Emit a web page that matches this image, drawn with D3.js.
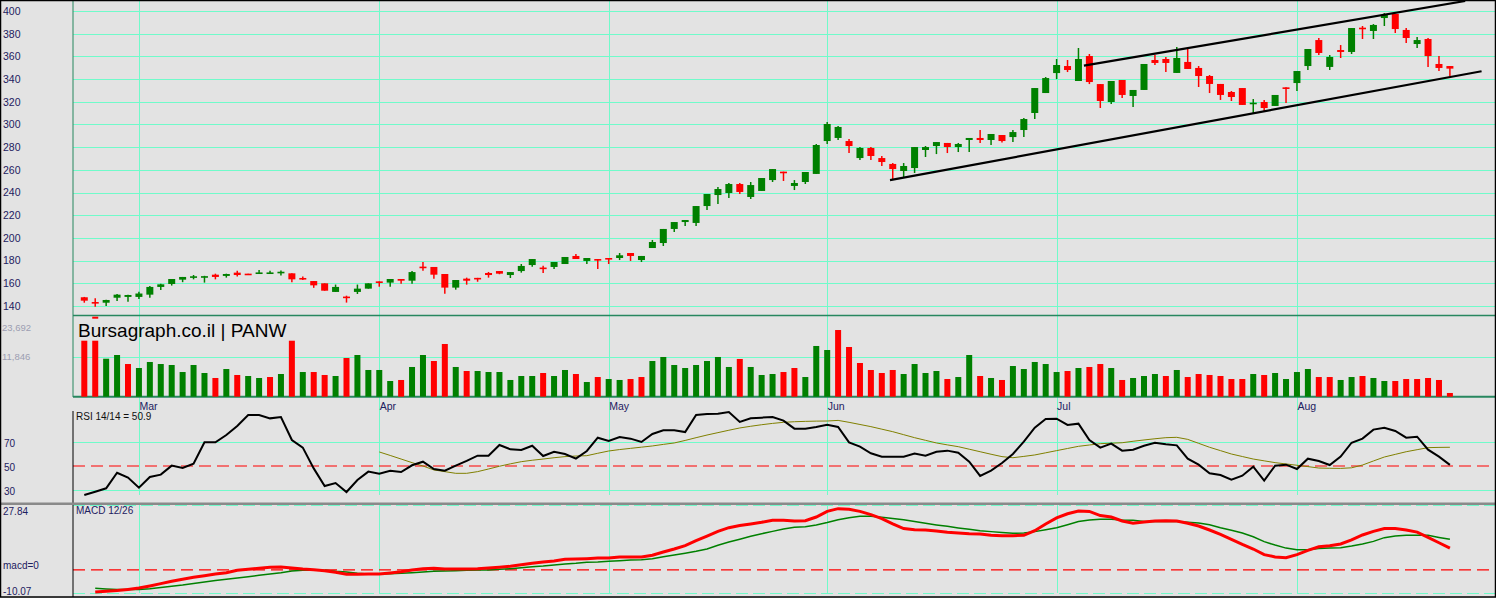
<!DOCTYPE html>
<html>
<head>
<meta charset="utf-8">
<style>
  body{margin:0;background:#e3e3e3;overflow:hidden;}
  svg{display:block;font-family:"Liberation Sans",Arial,sans-serif;}
  .grid line{stroke:#70fbca;stroke-width:1;shape-rendering:crispEdges;}
  .grid path,.lbl path{display:none;}
  .lbl text{fill:#1d2060;}
</style>
<script src="https://cdn.jsdelivr.net/npm/d3@7"></script>
</head>
<body>
<script>
// ---- data, index = trading day 0..125 ----
const months = ["Mar","Apr","May","Jun","Jul","Aug"];
const monthStart = [5, 27, 48, 68, 89, 111];

const opens = [147.7,143.5,142.9,147.3,148.0,148.0,150.0,156.8,159.4,163.2,
  165.6,165.7,167.6,166.5,169.4,168.5,169.0,169.0,169.2,168.8,
  164.7,162.0,160.0,152.4,148.3,152.4,155.3,161.7,160.6,163.8,
  162.3,174.7,174.4,168.2,156.2,164.1,164.8,169.1,170.8,167.3,
  170.8,176.1,173.9,174.4,177.0,184.1,179.7,181.4,182.3,182.3,
  186.7,180.5,191.1,195.5,207.9,214.0,213.2,228.1,237.8,239.6,
  247.5,236.1,241.4,251.0,258.4,245.8,249.3,256.4,285.4,288.1,
  285.4,270.4,279.3,270.4,265.2,259.0,261.6,277.5,281.0,283.7,
  280.1,286.3,288.1,286.3,290.7,288.9,295.1,310.1,327.7,345.3,
  351.5,338.3,360.3,335.6,319.8,339.2,325.1,330.4,356.8,357.7,
  345.4,355.1,349.8,342.7,335.7,328.6,332.1,318.6,319.8,316.3,
  332.7,336.5,351.5,374.4,350.7,365.6,363.9,385.3,382.4,393.8,
  397.4,383.3,370.9,375.3,353.3,351.5];
const highs = [148.0,146.8,145.5,150.6,149.9,152.5,157.6,159.7,163.8,165.6,
  167.3,166.6,168.5,168.5,171.0,168.5,171.7,171.0,171.3,168.8,
  166.0,162.0,160.0,158.9,149.1,158.9,160.0,161.7,163.8,163.8,
  170.8,178.8,174.4,168.2,162.9,165.0,164.8,170.0,170.8,169.9,
  177.0,181.4,175.5,178.8,183.2,185.8,182.3,181.4,182.3,186.7,
  186.7,184.1,198.2,207.9,214.0,215.8,228.1,238.7,244.9,248.4,
  248.4,249.3,252.8,260.7,258.4,251.0,258.1,282.8,302.2,298.6,
  287.2,280.1,280.1,272.2,266.0,266.0,280.1,281.0,284.5,283.7,
  283.7,288.1,295.1,291.6,290.7,295.1,305.7,332.1,341.8,357.7,
  356.8,367.4,362.1,335.6,338.3,339.2,330.4,353.3,361.2,359.5,
  368.3,366.5,351.5,343.6,335.7,329.5,332.1,322.4,321.6,326.0,
  332.7,347.1,366.5,376.2,361.2,370.0,385.0,386.8,388.5,398.2,
  397.4,385.0,377.1,376.2,360.3,351.5];
const lows = [142.9,139.4,140.0,144.4,143.8,146.2,147.3,154.2,158.0,161.0,
  163.5,160.6,163.5,165.0,165.9,168.1,168.4,168.2,166.8,161.0,
  163.0,156.0,153.5,152.4,143.0,150.6,155.3,157.0,157.0,159.7,
  159.7,171.1,164.1,150.9,154.4,158.8,161.4,165.0,168.0,164.7,
  169.4,174.5,169.1,172.6,177.0,181.4,177.0,172.6,177.0,180.5,
  179.7,178.8,191.1,192.9,205.2,210.5,210.5,224.6,229.9,235.2,
  238.7,234.3,241.4,249.3,250.2,242.2,247.5,256.4,282.8,286.3,
  274.8,268.7,268.7,263.4,251.9,253.7,257.2,271.3,273.9,274.8,
  275.7,275.7,283.7,281.9,284.0,284.5,288.9,304.8,327.7,340.0,
  346.2,338.3,335.6,314.5,318.0,323.3,315.4,330.4,352.4,346.2,
  345.4,348.9,333.0,327.7,321.6,320.7,317.2,310.1,311.9,316.3,
  318.9,329.5,348.0,361.2,348.0,358.6,362.1,375.3,375.3,386.8,
  380.6,371.8,367.4,350.7,347.1,342.7];
const closes = [144.7,142.6,145.3,150.0,149.7,151.0,156.8,159.1,163.8,165.6,
  166.2,166.3,165.6,168.2,167.3,168.1,169.6,169.6,170.2,163.5,
  164.2,158.2,153.5,156.8,147.9,155.3,160.0,161.2,163.8,162.3,
  169.9,174.1,167.6,156.2,162.9,162.3,164.3,167.3,168.5,169.9,
  175.3,181.4,173.1,178.8,183.2,181.4,182.3,180.0,181.4,184.7,
  184.1,184.1,196.4,207.9,214.0,215.8,228.1,238.7,243.1,247.5,
  240.5,246.6,252.8,260.7,257.8,248.4,258.1,281.9,300.4,297.8,
  281.0,279.3,272.2,266.9,260.7,263.4,280.1,280.1,284.5,280.1,
  282.8,288.1,286.3,291.6,285.4,293.3,304.8,332.1,340.9,352.4,
  348.0,357.7,337.4,320.7,338.3,326.0,330.4,353.3,354.2,354.2,
  358.6,348.9,342.7,335.7,326.0,324.2,317.2,319.2,314.5,326.0,
  332.1,347.1,366.5,363.0,359.5,363.9,385.0,384.7,387.7,396.5,
  384.1,376.2,374.4,360.3,349.8,349.2];
// a stray off-scale tick drawn under day 1
const strayTicks = [[1, 129.7]];

const volumes = [16580,16580,11250,12350,9680,8500,10280,9680,9390,7310,
  9390,7020,5540,8200,6430,6130,5540,5830,6720,16580,
  7310,7310,6430,6130,11460,12350,7910,7910,4650,4950,
  8800,12350,10570,15610,8800,7610,7610,7310,7310,4950,
  6130,6130,7020,6130,7910,6720,4350,5830,5240,4950,
  5240,5830,10570,11760,9390,8500,9390,10570,11760,8800,
  11170,8800,6430,6720,7310,8500,5830,15020,13830,19750,
  14720,9980,7910,7020,7910,6720,9680,7020,7610,5240,
  5830,12350,6130,5540,4950,9090,8200,10280,9680,7310,
  7610,8500,8800,9680,8500,4950,5540,6130,6720,6130,
  7910,5830,6720,6430,6130,5240,5240,6720,6430,7020,
  5240,7310,8200,5830,5830,4950,5830,6130,5540,4650,
  4650,5240,5240,5540,4950,1100];
const volumeDir = ("rrggrggggg" + "ggrgrggrgr" + "grrgrggggr" + "ggrrgrgggg" +
  "ggrggrgrgg" + "rrgggggggg" + "rgggrrgggr" + "rrrrrggggr" + "ggrgrggggg" +
  "rgrrgrgggr" + "grrrrrrgrg" + "gggrrggrgg" + "rrrrrr").split("");
const volTicks = [23692, 11846];

const rsi = [25.8,28.6,31.4,44.4,40.3,31.9,40.8,42.8,50.3,48.3,
  51.9,69.7,69.7,75.8,83.3,92.5,92.5,89.7,90.8,71.7,
  65.3,48.0,33.3,35.8,28.3,38.3,45.3,43.6,46.1,45.0,
  50.6,53.6,47.5,46.1,50.3,54.2,58.6,58.6,67.5,63.9,
  63.3,66.9,58.3,61.9,60.0,56.1,62.5,73.6,70.8,74.2,
  72.8,70.0,76.7,79.7,79.7,78.3,92.5,93.3,93.6,95.0,
  86.7,89.7,90.3,90.8,87.8,81.1,81.1,82.5,84.4,82.5,
  69.7,66.1,60.6,57.8,57.8,57.8,60.3,58.6,61.9,62.8,
  61.1,53.6,41.7,46.1,52.5,60.0,70.3,81.9,89.2,89.4,
  84.2,85.3,71.7,65.3,68.6,62.8,63.6,66.9,69.4,68.1,
  67.2,56.1,51.1,43.9,42.5,38.6,41.9,49.4,37.8,50.3,
  51.1,47.5,56.1,54.2,50.8,57.8,69.4,72.8,80.3,81.9,
  79.2,73.6,74.4,63.6,57.8,50.9];
// signal line starts at day 27
const rsiSignal = [null,null,null,null,null,null,null,null,null,null,
  null,null,null,null,null,null,null,null,null,null,
  null,null,null,null,null,null,null,61.7,58.8,55.8,
  52.8,50.0,46.7,45.3,43.9,43.9,45.3,47.5,49.8,51.8,
  53.6,54.8,55.8,56.9,57.8,58.3,58.6,60.6,62.5,63.7,
  64.7,65.7,66.7,68.0,69.2,71.3,73.6,75.8,77.8,79.8,
  81.7,83.1,84.4,85.5,86.4,86.9,87.2,87.4,87.5,88.0,
  86.4,84.6,82.8,80.7,78.6,76.1,73.6,71.4,69.2,67.6,
  66.1,64.0,61.9,59.8,57.8,56.9,58.0,59.2,61.0,62.8,
  64.6,66.4,67.5,68.6,69.0,69.4,70.6,71.7,72.7,73.6,
  73.9,72.2,68.9,65.6,62.8,60.0,57.9,55.8,54.3,52.8,
  51.7,50.6,49.5,48.3,48.1,48.0,48.5,50.8,54.2,57.5,
  59.7,61.9,63.6,65.3,65.5,65.6];
const rsiTicks = [70, 50, 30];

const macd = [null,-9.5,-9.2,-8.9,-8.4,-7.8,-6.9,-5.9,-4.9,-4.05,
  -3.2,-2.5,-1.75,-1.18,-0.18,0.25,0.68,1.1,1.26,0.83,
  0.4,0.11,-0.32,-1.04,-1.9,-1.9,-1.76,-1.76,-1.3,-0.75,
  -0.03,0.54,0.68,0.4,0.4,0.4,0.54,0.83,1.2,1.55,
  2.27,2.84,3.4,3.85,4.56,4.7,4.85,5.1,5.1,5.6,
  5.6,5.6,6.3,7.7,9.0,10.45,12.6,14.6,16.6,18.2,
  19.1,19.8,20.5,21.4,21.4,21.1,21.2,22.8,25.24,26.4,
  26.1,25.24,23.8,22.1,19.8,17.8,17.3,17.2,16.8,16.2,
  15.9,15.6,15.5,14.9,14.7,14.76,14.9,16.9,19.8,22.4,
  24.2,25.4,25.2,23.4,22.8,21.1,20.1,20.6,21.1,21.2,
  21.1,20.1,18.9,17.2,15.3,13.2,11.0,9.0,6.6,5.6,
  5.3,6.6,8.4,10.0,10.45,11.2,12.9,15.05,16.6,17.8,
  17.8,17.2,16.3,14.0,11.7,9.4];
const macdSignal = [null,-7.9,-8.2,-8.4,-8.4,-8.4,-8.1,-7.6,-7.07,-6.5,
  -5.8,-5.2,-4.6,-4.05,-3.5,-2.9,-2.3,-1.76,-1.18,-0.46,
  -0.18,-0.03,-0.18,-0.6,-0.9,-1.47,-1.76,-1.76,-1.6,-1.47,
  -1.18,-0.9,-0.6,-0.46,-0.32,-0.18,-0.03,-0.03,0.25,0.54,
  0.97,1.4,1.69,2.1,2.55,2.84,3.27,3.4,3.7,4.0,
  4.3,4.4,4.85,5.7,6.4,7.15,8.0,9.0,10.6,12.0,
  13.2,14.5,15.6,16.6,17.6,18.4,18.6,19.4,20.4,21.65,
  22.5,23.1,23.1,22.7,22.2,21.65,20.9,20.1,19.4,18.8,
  18.1,17.5,16.9,16.5,16.1,15.8,15.9,16.5,17.3,18.2,
  19.5,20.9,21.5,21.8,21.8,21.5,21.4,20.9,20.9,20.9,
  20.9,20.5,20.2,19.5,18.2,17.1,15.9,14.3,12.2,10.7,
  9.4,8.7,8.7,9.2,9.4,9.6,10.3,11.2,12.3,13.9,
  14.6,14.9,14.9,14.9,14.0,13.2];
const macdTicks = [27.84, 0, -10.07];

const priceTicks = [400,380,360,340,320,300,280,260,240,220,200,180,160,140];
// channel lines: [day, price] end points
const trendLines = [
  [[73.75, 251.0], [127.9, 346.9]],
  [[91.5, 351.8], [126.4, 408.8]]
];

// ---- layout ----
const W = 1496, H = 598, L = 73, R = 1495;
const RED = "#ff0000", GREEN = "#008000", EDGE = "#27875f";

const svg = d3.select("body").append("svg").attr("width", W).attr("height", H);

const x = d3.scaleLinear().domain([0, 125]).range([84.3, 1449.9]);
const yP = d3.scaleLinear().domain([140, 400]).range([306, 11]);
const yV = d3.scaleLinear().domain([0, 23692]).range([396.7, 316.7]);
const yR = d3.scaleLinear().domain([30, 70]).range([490, 442]);
const yM = d3.scaleLinear().domain([-10.07, 27.84]).range([593.3, 505.3]);

// horizontal grids
function hgrid(scale, ticks) {
  return svg.append("g").attr("class", "grid").attr("transform", `translate(${L},0)`)
    .call(d3.axisLeft(scale).tickValues(ticks).tickSize(-(R - L)).tickFormat(""));
}
hgrid(yP, priceTicks);
hgrid(yV, [11846]);
hgrid(yR, [70, 30]);
hgrid(yM, [27.84, -10.07]).selectAll("line").attr("stroke-dasharray", "12,5");

// vertical month lines
svg.append("g").attr("class", "grid")
  .call(d3.axisBottom(x).tickValues(monthStart).tickSize(495).tickFormat(""));
svg.append("g").attr("class", "grid").attr("transform", "translate(0,505.3)")
  .call(d3.axisBottom(x).tickValues(monthStart).tickSize(88).tickFormat(""));

// dashed reference lines
[[yR(50)], [yM(0)]].forEach(([yy]) => {
  svg.append("line").attr("x1", L).attr("x2", R).attr("y1", yy).attr("y2", yy)
    .attr("stroke", RED).attr("stroke-width", 1.2).attr("stroke-dasharray", "12,6");
});

// panel borders
svg.append("line").attr("x1", L).attr("x2", L).attr("y1", 0).attr("y2", 397).attr("stroke", EDGE);
svg.append("line").attr("x1", L).attr("x2", R).attr("y1", 315.5).attr("y2", 315.5).attr("stroke", EDGE).attr("stroke-width", 1.5);
svg.append("line").attr("x1", L).attr("x2", R).attr("y1", 396.7).attr("y2", 396.7).attr("stroke", EDGE).attr("stroke-width", 2);
svg.append("line").attr("x1", L).attr("x2", L).attr("y1", 411).attr("y2", 503).attr("stroke", "#000");
svg.append("line").attr("x1", 0).attr("x2", W).attr("y1", 503.8).attr("y2", 503.8).attr("stroke", "#8a8a8a").attr("stroke-width", 2.5);
svg.append("line").attr("x1", L).attr("x2", L).attr("y1", 505).attr("y2", 597).attr("stroke", "#000");

// candles
const days = d3.range(opens.length);
const candle = svg.append("g").selectAll("g").data(days).join("g")
  .attr("fill", i => closes[i] < opens[i] ? RED : GREEN)
  .attr("stroke", i => closes[i] < opens[i] ? RED : GREEN);
candle.append("line")
  .attr("x1", i => x(i)).attr("x2", i => x(i))
  .attr("y1", i => yP(highs[i])).attr("y2", i => yP(lows[i]))
  .attr("stroke-width", 1.5);
candle.append("rect")
  .attr("stroke", "none")
  .attr("x", i => x(i) - 3.5).attr("width", 7)
  .attr("y", i => yP(Math.max(opens[i], closes[i])))
  .attr("height", i => Math.max(1.6, Math.abs(yP(opens[i]) - yP(closes[i]))));
svg.append("g").selectAll("rect").data(strayTicks).join("rect")
  .attr("x", d => x(d[0]) - 3).attr("width", 6)
  .attr("y", d => yP(d[1]) - 1).attr("height", 2).attr("fill", RED);

// channel
svg.append("g").selectAll("line").data(trendLines).join("line")
  .attr("x1", d => x(d[0][0])).attr("y1", d => yP(d[0][1]))
  .attr("x2", d => x(d[1][0])).attr("y2", d => yP(d[1][1]))
  .attr("stroke", "#000").attr("stroke-width", 2.2);

// volume
svg.append("g").selectAll("rect").data(days).join("rect")
  .attr("x", i => x(i) - 3).attr("width", 6)
  .attr("y", i => yV(volumes[i])).attr("height", i => yV(0) - yV(volumes[i]))
  .attr("fill", i => volumeDir[i] === "r" ? RED : GREEN);

// RSI
const lineR = d3.line().defined(d => d != null).x((d, i) => x(i)).y(d => yR(d));
svg.append("path").datum(rsiSignal).attr("d", lineR).attr("fill", "none")
  .attr("stroke", "#808000").attr("stroke-width", 1);
svg.append("path").datum(rsi).attr("d", lineR).attr("fill", "none")
  .attr("stroke", "#000").attr("stroke-width", 2);

// MACD
const lineM = d3.line().defined(d => d != null).x((d, i) => x(i)).y(d => yM(d));
svg.append("path").datum(macdSignal).attr("d", lineM).attr("fill", "none")
  .attr("stroke", GREEN).attr("stroke-width", 1.5);
svg.append("path").datum(macd).attr("d", lineM).attr("fill", "none")
  .attr("stroke", RED).attr("stroke-width", 3);

// labels
svg.append("g").attr("class", "lbl").style("font-size", "10.5px")
  .call(d3.axisRight(yP).tickValues(priceTicks).tickSize(0).tickPadding(3));
const vl = svg.append("g").attr("class", "lbl").style("font-size", "9.5px")
  .call(d3.axisRight(yV).tickValues(volTicks).tickSize(0).tickPadding(2).tickFormat(d3.format(",")));
vl.selectAll("text").style("fill", "#9c9eb2").attr("y", d => d === 23692 ? 11 : 0);
svg.append("g").attr("class", "lbl").style("font-size", "10px")
  .call(d3.axisRight(yR).tickValues(rsiTicks).tickSize(0).tickPadding(4))
  .selectAll("text").attr("y", 1);
const ml = svg.append("g").attr("class", "lbl").style("font-size", "10px")
  .call(d3.axisRight(yM).tickValues(macdTicks).tickSize(0).tickPadding(3)
    .tickFormat(d => d === 0 ? "macd=0" : d.toFixed(2)));
ml.selectAll("text").attr("y", d => d === 0 ? -4.5 : d > 0 ? 5.5 : -2.5);

const mAxis = svg.append("g").attr("class", "lbl").attr("transform", "translate(0,402.5)")
  .style("font-size", "10.5px")
  .call(d3.axisBottom(x).tickValues(monthStart).tickSize(0).tickPadding(0)
    .tickFormat((d, i) => months[i]));
mAxis.selectAll("text").attr("text-anchor", "start");

svg.append("text").attr("x", 78).attr("y", 337).style("font-size", "19px").attr("fill", "#000")
  .text("Bursagraph.co.il | PANW");
svg.append("text").attr("x", 76).attr("y", 419.5).style("font-size", "10px").attr("fill", "#111")
  .text("RSI 14/14 = " + rsi[rsi.length - 1]);
svg.append("text").attr("x", 76).attr("y", 514).style("font-size", "10px").attr("fill", "#1d2060")
  .text("MACD 12/26");

// outer frame
svg.append("rect").attr("x", 0.5).attr("y", 0.5).attr("width", W - 1).attr("height", H - 1.5)
  .attr("fill", "none").attr("stroke", "#000").attr("stroke-width", 1.5);
</script>
</body>
</html>
